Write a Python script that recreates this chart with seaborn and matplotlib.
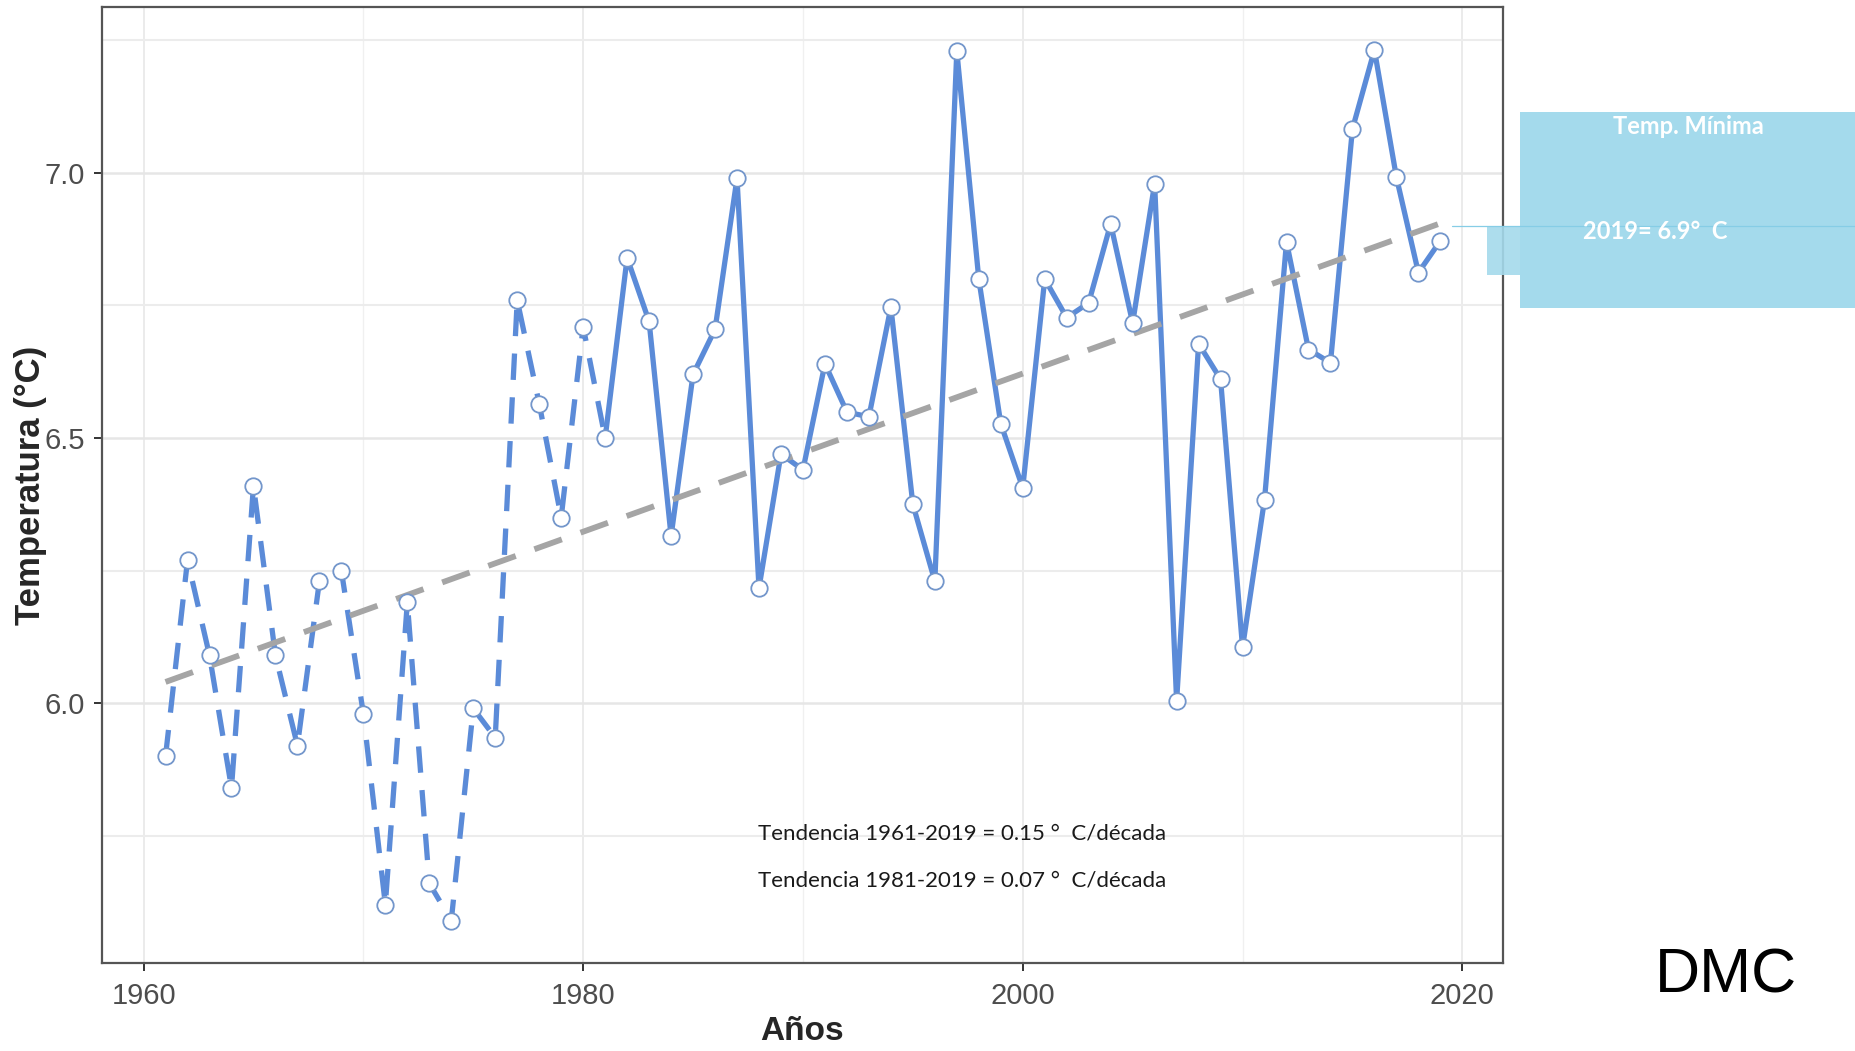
import matplotlib
matplotlib.use("Agg")
import matplotlib.pyplot as plt
from matplotlib.patches import Rectangle
from matplotlib.lines import Line2D
from matplotlib.ticker import MultipleLocator
import pandas as pd
import seaborn as sns

# annual minimum temperature
years = list(range(1961, 2020))
tmin = [5.90, 6.27, 6.09, 5.84, 6.41, 6.09, 5.92, 6.23, 6.25, 5.98,
        5.62, 6.19, 5.66, 5.59, 5.99, 5.935, 6.76, 6.565, 6.35, 6.71,
        6.50, 6.84, 6.72, 6.315, 6.62, 6.705, 6.99, 6.217, 6.47, 6.44,
        6.64, 6.549, 6.54, 6.747, 6.375, 6.23, 7.23, 6.80, 6.527, 6.406,
        6.80, 6.727, 6.755, 6.904, 6.717, 6.98, 6.004, 6.678, 6.611, 6.105,
        6.384, 6.87, 6.667, 6.642, 7.083, 7.232, 6.992, 6.812, 6.872]

# linear trend 1961-2019 (endpoints)
trend_years = [1961, 2019]
trend_vals = [6.04, 6.905]

x_ticks = [1960, 1980, 2000, 2020]
y_ticks = [6.0, 6.5, 7.0]

blue = "#5B8BD8"
edge = "#7396CB"

sns.set_style("ticks")

df = pd.DataFrame({"year": years, "tmin": tmin})
early = df[df.year <= 1981]
late = df[df.year >= 1981]
trend = pd.DataFrame({"year": trend_years, "tmin": trend_vals})

fig = plt.figure(figsize=(18.56, 10.51), dpi=100)
ax = fig.add_axes([0.05485, 0.08326, 0.75496, 0.91009])

sns.lineplot(data=early, x="year", y="tmin", ax=ax, color=blue, lw=3.8,
             linestyle=(0, (5, 3.3)), estimator=None, zorder=3)
sns.lineplot(data=late, x="year", y="tmin", ax=ax, color=blue, lw=3.8,
             estimator=None, zorder=3)
sns.lineplot(data=trend, x="year", y="tmin", ax=ax, color="#A5A5A5", lw=4.2,
             linestyle=(0, (5, 3.4)), estimator=None, zorder=4)
sns.scatterplot(data=df, x="year", y="tmin", ax=ax, s=140, color="white",
                edgecolor=edge, linewidth=1.3, zorder=5)

ax.set_xlim(1958.1, 2021.85)
ax.set_ylim(5.509, 7.313)
ax.set_xticks(x_ticks)
ax.set_yticks(y_ticks)
ax.set_yticklabels(["6.0", "6.5", "7.0"])
ax.xaxis.set_minor_locator(MultipleLocator(10))
ax.yaxis.set_minor_locator(MultipleLocator(0.25))
ax.tick_params(which="minor", length=0)
ax.tick_params(which="major", length=6, width=1.4, color="#333333",
               labelcolor="#4D4D4D", labelsize=21)
ax.tick_params(axis="x", pad=7)
ax.tick_params(axis="y", pad=6)
for lab in ax.get_xticklabels() + ax.get_yticklabels():
    lab.set_family(["Liberation Sans Narrow", "Liberation Sans", "DejaVu Sans"])

ax.set_axisbelow(True)
ax.yaxis.grid(True, which="major", color="#E6E6E6", lw=1.8)
ax.yaxis.grid(True, which="minor", color="#ECECEC", lw=1.5)
ax.xaxis.grid(True, which="major", color="#E8E8E8", lw=1.2)
ax.xaxis.grid(True, which="minor", color="#F0F0F0", lw=1.0)
for s in ax.spines.values():
    s.set_color("#555555")
    s.set_linewidth(1.6)

ax.set_xlabel("Años", fontsize=24, fontweight="bold", family="Liberation Sans",
              va="center")
ax.xaxis.set_label_coords(0.5, -0.0706)
ax.set_ylabel("Temperatura (°C)", fontsize=25, fontweight="bold",
              family="Liberation Sans", va="center")
ax.yaxis.set_label_coords(-0.0512, 0.5)

# trend notes
fig.text(0.4084, 0.2065, "Tendencia 1961-2019 = 0.15 °  C/década",
         fontsize=16, family="Lato", va="center", color="#1A1A1A")
fig.text(0.4084, 0.1627, "Tendencia 1981-2019 = 0.07 °  C/década",
         fontsize=16, family="Lato", va="center", color="#1A1A1A")

# callout box on the right
box_col = "#A4DAEC"
fig.add_artist(Rectangle((0.8190, 0.7069), 0.1810, 0.1865, transform=fig.transFigure,
                         facecolor=box_col, edgecolor="none", zorder=1))
fig.add_artist(Rectangle((0.8012, 0.7383), 0.0200, 0.0460, transform=fig.transFigure,
                         facecolor=box_col, edgecolor="none", alpha=0.9, zorder=1))
fig.add_artist(Line2D([0.7823, 1.0], [0.785, 0.785], transform=fig.transFigure,
                      color="#86CDE6", lw=0.9, zorder=2))
fig.text(0.9095, 0.8801, "Temp. Mínima", color="white", fontsize=17,
         fontweight="bold", family="Lato", ha="center", va="center", zorder=3)
fig.text(0.8529, 0.7793, "2019= 6.9°  C", color="white", fontsize=17,
         fontweight="bold", family="Lato", ha="left", va="center", zorder=3)

fig.text(0.930, 0.0709, "DMC", fontsize=45, family="Liberation Sans",
         ha="center", va="center", color="black")

fig.savefig("out.png", dpi=100)
